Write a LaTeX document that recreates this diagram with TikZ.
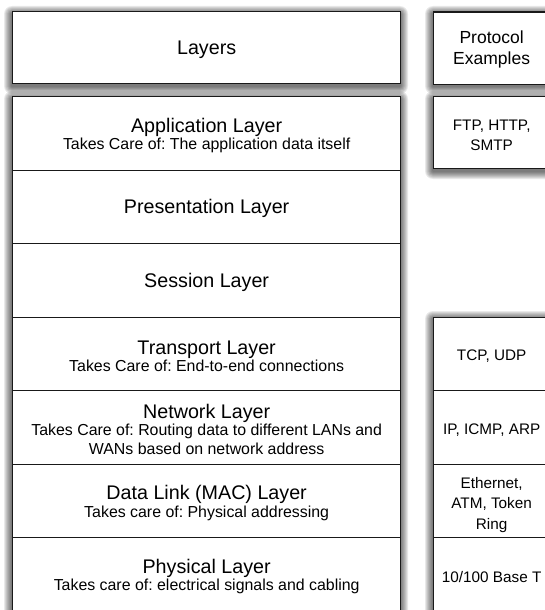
\documentclass[tikz,border=0pt]{standalone}
\usepackage{fontspec}
\setmainfont{Liberation Sans}
\frenchspacing

% layer titles carry a strut so every box centres its text the same way
\newcommand\layertitle[1]{{\fontsize{19.7}{21}\selectfont\rule{0pt}{18pt}#1}}
\newcommand\protostrut{\rule{0pt}{15.5pt}}

% soft drop shadow: stacked translucent rectangles, offset downwards
\newcommand\softshadow[4]{%
  \foreach \r in {1,...,8}{%
    \fill[black, opacity=0.085, rounded corners=\r pt]
      (#1-\r, #2-\r+3) rectangle (#3+\r, #4+\r+3);
  }%
}

\tikzset{
  frame/.style={draw=black!90, line width=1.3pt, fill=white},
  layerbox/.style={frame, rectangle, inner sep=0pt, anchor=north west,
      minimum width=388pt, minimum height=73.5pt, align=center,
      font=\fontsize{15.9}{17.5}\selectfont},
  protobox/.style={frame, rectangle, inner sep=0pt, anchor=north west,
      minimum width=116pt, minimum height=73.5pt, align=center,
      font=\fontsize{15.3}{20.5}\selectfont},
}

\begin{document}
\begin{tikzpicture}[x=1pt, y=-1pt]
  \useasboundingbox (0,0) rectangle (544,610);

  % shadows behind the boxes and the two stacks
  \softshadow{12}{11}{400}{83}
  \softshadow{433}{11}{549}{83}
  \softshadow{433}{96}{549}{168}
  \softshadow{12}{96}{400}{612}
  \softshadow{433}{316}{549}{612}

  % headers
  \node[layerbox, minimum height=72pt] (hdr) at (12,11) {\layertitle{Layers}};
  \node[protobox, minimum height=72pt, font=\fontsize{17.5}{21}\selectfont]
    (phdr) at (433,11.5) {\protostrut Protocol\\Examples};

  % OSI layer stack
  \node[layerbox] (app) at (12,96)
    {\layertitle{Application Layer}\\Takes Care of: The application data itself};
  \node[layerbox] (pres) at (12,169.5) {\layertitle{Presentation Layer}};
  \node[layerbox] (sess) at (12,243) {\layertitle{Session Layer}};
  \node[layerbox] (trans) at (12,316.5)
    {\layertitle{Transport Layer}\\Takes Care of: End-to-end connections};
  \node[layerbox] (net) at (12,390)
    {\layertitle{Network Layer}\\Takes Care of: Routing data to different LANs and\\[1pt]WANs based on network address};
  \node[layerbox] (link) at (12,463.5)
    {\layertitle{Data Link (MAC) Layer}\\Takes care of: Physical addressing};
  \node[layerbox] (phys) at (12,537)
    {\layertitle{Physical Layer}\\Takes care of: electrical signals and cabling};

  % protocol examples
  \node[protobox, minimum height=72pt] (papp) at (433,96) {\protostrut FTP, HTTP,\\SMTP};
  \node[protobox] (ptrans) at (433,316.5) {\protostrut TCP, UDP};
  \node[protobox] (pnet) at (433,390) {\protostrut IP, ICMP, ARP};
  \node[protobox] (plink) at (433,463.5) {\rule{0pt}{19pt}Ethernet,\\ATM, Token\\Ring};
  \node[protobox] (pphys) at (433,537) {\protostrut 10/100 Base T};
\end{tikzpicture}
\end{document}
